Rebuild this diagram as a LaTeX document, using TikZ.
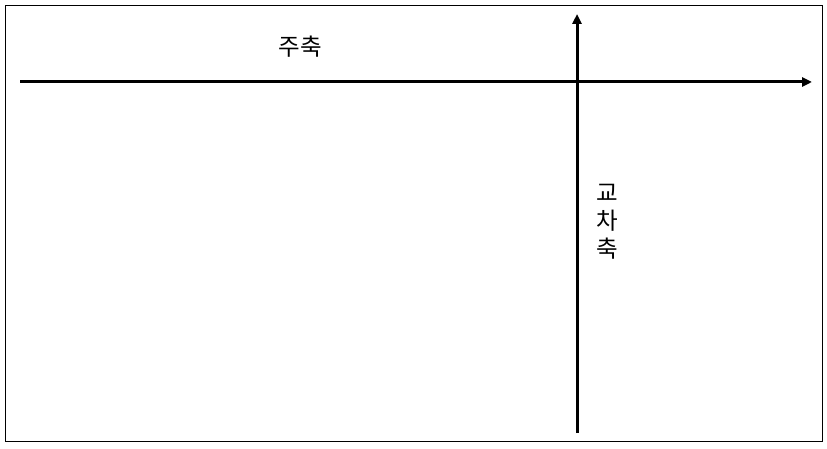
\documentclass[tikz,border=0pt]{standalone}
\usepackage{fontspec}
\newfontfamily\kr{Noto Sans CJK KR}
\usetikzlibrary{arrows.meta}
\begin{document}
\begin{tikzpicture}[x=1pt,y=-1pt,
  axis/.style={line width=3pt,-{Triangle[length=10pt,width=9pt]}},
  lbl/.style={font=\kr\fontsize{23.5}{28}\selectfont,inner sep=0pt}]
\useasboundingbox (0,0) rectangle (827,449);
\draw[line width=1pt] (5.5,5.5) rectangle (822,441.5);
\coordinate (hs) at (20,82);
\coordinate (he) at (812,82);
\coordinate (vs) at (577,433);
\coordinate (ve) at (577,14);
\draw[axis] (hs) -- (he);
\draw[axis] (vs) -- (ve);
\node[lbl] (main) at (300,47) {주축};
\node[lbl,align=center] (cross) at (607,222) {교\\차\\축};
\end{tikzpicture}
\end{document}
